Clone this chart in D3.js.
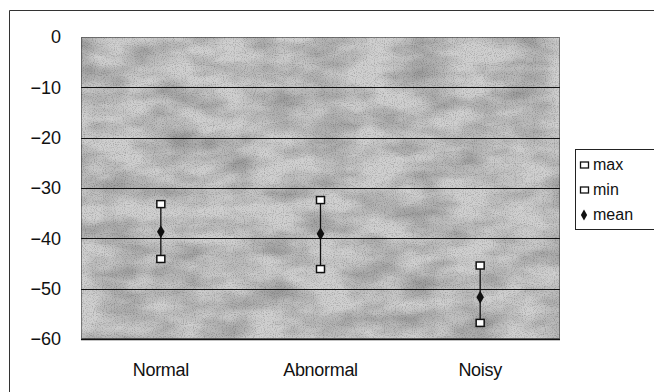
<!doctype html>
<html>
<head>
<style>
  body { margin: 0; background: #fff; }
  text { font-family: "Liberation Sans", Arial, sans-serif; fill: #111; }
</style>
<script src="https://d3js.org/d3.v7.min.js"></script>
</head>
<body>
<svg width="654" height="392"></svg>
<script>
var categories = ["Normal", "Abnormal", "Noisy"];
var maxValues = [-33.2, -32.4, -45.4];
var minValues = [-44.1, -46.1, -56.8];
var meanValues = [-38.7, -39.1, -51.7];
var yTicks = [0, -10, -20, -30, -40, -50, -60];

var svg = d3.select("svg");
var plot = { left: 81, top: 37, right: 560, bottom: 339 };

// outer chart border
svg.append("path")
   .attr("d", "M9.5,392 V10.5 H654")
   .attr("fill", "none")
   .attr("stroke", "#333")
   .attr("stroke-width", 1);

var x = d3.scaleBand().domain(categories).range([plot.left, plot.right]);
var y = d3.scaleLinear().domain([-60, 0]).range([plot.bottom, plot.top]);

// textured grey background
var defs = svg.append("defs");
var f = defs.append("filter").attr("id", "tex")
    .attr("x", 0).attr("y", 0).attr("width", 1).attr("height", 1);
f.append("feTurbulence").attr("type", "fractalNoise")
    .attr("baseFrequency", "0.02 0.045").attr("numOctaves", 3).attr("seed", 4).attr("result", "n");
f.append("feColorMatrix").attr("type", "matrix")
    .attr("values", "0 0 0 0 0  0 0 0 0 0  0 0 0 0 0  0 0 0 -1.2 0.8");

var g2 = defs.append("filter").attr("id", "grain")
    .attr("x", 0).attr("y", 0).attr("width", 1).attr("height", 1);
g2.append("feTurbulence").attr("type", "fractalNoise")
    .attr("baseFrequency", "0.9").attr("numOctaves", 1).attr("seed", 2);
g2.append("feColorMatrix").attr("type", "matrix")
    .attr("values", "0 0 0 0 0  0 0 0 0 0  0 0 0 0 0  0 0 0 -2.5 1.3");

var pw = plot.right - plot.left, ph = plot.bottom - plot.top;
svg.append("rect")
   .attr("x", plot.left).attr("y", plot.top).attr("width", pw).attr("height", ph)
   .attr("fill", "#cfcfcf");
svg.append("rect")
   .attr("x", plot.left).attr("y", plot.top).attr("width", pw).attr("height", ph)
   .attr("fill", "#000").attr("filter", "url(#tex)").attr("opacity", 0.4);
svg.append("rect")
   .attr("x", plot.left).attr("y", plot.top).attr("width", pw).attr("height", ph)
   .attr("fill", "#000").attr("filter", "url(#grain)").attr("opacity", 0.25);

// gridlines
svg.append("g").selectAll("line")
   .data(yTicks.filter(function(d) { return d > -60 && d < 0; }))
   .enter().append("line")
   .attr("x1", plot.left).attr("x2", plot.right)
   .attr("y1", function(d) { return Math.round(y(d)) + 0.5; })
   .attr("y2", function(d) { return Math.round(y(d)) + 0.5; })
   .attr("stroke", "#111").attr("stroke-width", 1.2);

svg.append("rect")
   .attr("x", plot.left + 0.5).attr("y", plot.top + 0.5)
   .attr("width", pw - 1).attr("height", ph - 1)
   .attr("fill", "none").attr("stroke", "#222").attr("stroke-dasharray", "1,1").attr("stroke-width", 1);
svg.append("line")
   .attr("x1", plot.left).attr("x2", plot.right)
   .attr("y1", plot.bottom + 0.5).attr("y2", plot.bottom + 0.5)
   .attr("stroke", "#111").attr("stroke-width", 1.3);

// y axis
var yAxis = svg.append("g")
   .attr("transform", "translate(" + plot.left + ",0)")
   .call(d3.axisLeft(y).tickValues(yTicks).tickSize(0).tickPadding(20)
         .tickFormat(function(d) { return d < 0 ? "\u2212" + Math.abs(d) : d; }));
yAxis.select(".domain").remove();
yAxis.selectAll("text").attr("font-size", "18px")
   .attr("font-family", "Liberation Sans, Arial, sans-serif").attr("fill", "#111");

// x axis
var xAxis = svg.append("g")
   .attr("transform", "translate(0," + plot.bottom + ")")
   .call(d3.axisBottom(x).tickSize(0).tickPadding(24));
xAxis.select(".domain").remove();
xAxis.selectAll("text").attr("font-size", "18px").attr("letter-spacing", "-0.3px")
   .attr("font-family", "Liberation Sans, Arial, sans-serif").attr("fill", "#111");

var cx = function(i) { return x(categories[i]) + x.bandwidth() / 2; };

// high-low lines
svg.append("g").selectAll("line")
   .data(categories)
   .enter().append("line")
   .attr("x1", function(d, i) { return cx(i); })
   .attr("x2", function(d, i) { return cx(i); })
   .attr("y1", function(d, i) { return y(maxValues[i]); })
   .attr("y2", function(d, i) { return y(minValues[i]); })
   .attr("stroke", "#111").attr("stroke-width", 1.3);

function squares(vals) {
  svg.append("g").selectAll("rect")
     .data(vals)
     .enter().append("rect")
     .attr("x", function(d, i) { return cx(i) - 4; })
     .attr("y", function(d) { return y(d) - 3.5; })
     .attr("width", 8).attr("height", 7)
     .attr("fill", "#fff").attr("stroke", "#111").attr("stroke-width", 1.5);
}
squares(maxValues);
squares(minValues);

var diamond = d3.symbol().type(d3.symbolDiamond).size(50);
svg.append("g").selectAll("path")
   .data(meanValues)
   .enter().append("path")
   .attr("d", diamond)
   .attr("transform", function(d, i) { return "translate(" + cx(i) + "," + y(d) + ")"; })
   .attr("fill", "#111");

// legend
var legend = svg.append("g").attr("transform", "translate(575,149)");
legend.append("rect").attr("x", 0.5).attr("y", 0.5).attr("width", 85).attr("height", 80)
   .attr("fill", "#fff").attr("stroke", "#222");
var items = ["max", "min", "mean"];
items.forEach(function(name, i) {
  var yy = 16 + i * 25;
  if (name === "mean") {
    legend.append("path").attr("d", d3.symbol().type(d3.symbolDiamond).size(34))
      .attr("transform", "translate(9," + yy + ")").attr("fill", "#111");
  } else {
    legend.append("rect").attr("x", 5.5).attr("y", yy - 3).attr("width", 8).attr("height", 6)
      .attr("fill", "#fff").attr("stroke", "#111").attr("stroke-width", 1.3);
  }
  legend.append("text").attr("x", 18).attr("y", yy + 5)
    .attr("font-size", "16px").text(name);
});
</script>
</body>
</html>
